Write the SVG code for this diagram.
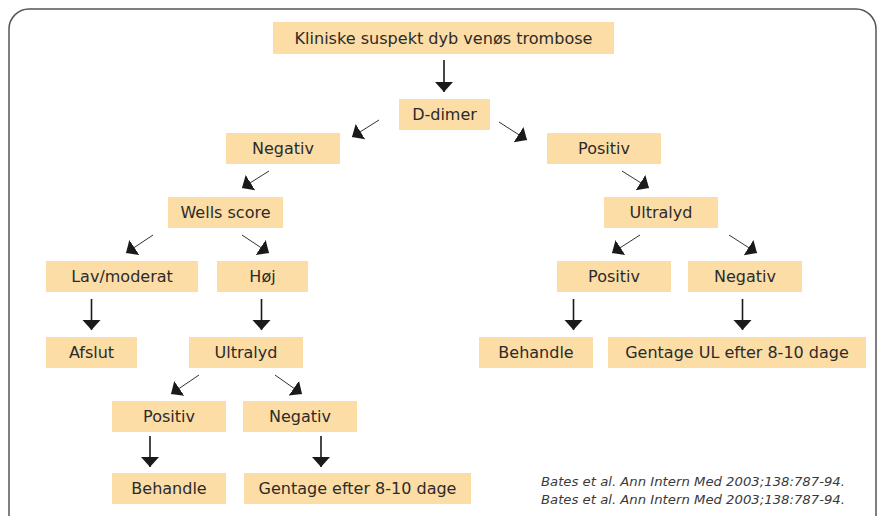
<svg xmlns="http://www.w3.org/2000/svg" width="879" height="516" viewBox="0 0 879 516">
<defs>
<style>
.box{fill:#FDDDA6;}
.t{font-family:"DejaVu Sans",Verdana,sans-serif;font-size:16px;fill:#2b2b2b;text-anchor:middle;}
.cite{font-family:"DejaVu Sans",Verdana,sans-serif;font-size:12.5px;font-style:italic;fill:#3a3a3a;}
.d{stroke:#333;stroke-width:1;fill:none;}
.v{stroke:#1a1a1a;stroke-width:1.6;fill:none;}
</style>
<marker id="ah" markerUnits="userSpaceOnUse" markerWidth="12" markerHeight="20" refX="10" refY="9" orient="auto" viewBox="0 0 12 20">
<path d="M0,0 L10,9 L0,18 Z" fill="#1a1a1a"/>
</marker>
</defs>
<rect x="9" y="9" width="867" height="530" rx="20" ry="20" fill="#fff" stroke="#555" stroke-width="1.5"/>

<g id="n-title"><rect class="box" x="273" y="22" width="341" height="32"/><text class="t" x="443.5" y="44" textLength="298" lengthAdjust="spacingAndGlyphs">Kliniske suspekt dyb venøs trombose</text></g>
<g id="n-ddimer"><rect class="box" x="399" y="99" width="91" height="31"/><text class="t" x="444.5" y="120">D-dimer</text></g>
<g id="n-neg1"><rect class="box" x="226" y="133" width="114" height="31"/><text class="t" x="283" y="154">Negativ</text></g>
<g id="n-pos1"><rect class="box" x="547" y="133" width="114" height="31"/><text class="t" x="604" y="154">Positiv</text></g>
<g id="n-wells"><rect class="box" x="168" y="197" width="115" height="31"/><text class="t" x="225.5" y="218">Wells score</text></g>
<g id="n-ultra-r"><rect class="box" x="604" y="197" width="114" height="31"/><text class="t" x="661" y="218">Ultralyd</text></g>
<g id="n-lav"><rect class="box" x="46" y="261" width="152" height="31"/><text class="t" x="122" y="282">Lav/moderat</text></g>
<g id="n-hoj"><rect class="box" x="217" y="261" width="91" height="31"/><text class="t" x="262.5" y="282">Høj</text></g>
<g id="n-pos-r"><rect class="box" x="557" y="261" width="114" height="31"/><text class="t" x="614" y="282">Positiv</text></g>
<g id="n-neg-r"><rect class="box" x="688" y="261" width="114" height="31"/><text class="t" x="745" y="282">Negativ</text></g>
<g id="n-afslut"><rect class="box" x="46" y="337" width="91" height="31"/><text class="t" x="91.5" y="358">Afslut</text></g>
<g id="n-ultra-l"><rect class="box" x="189" y="337" width="114" height="31"/><text class="t" x="246" y="358">Ultralyd</text></g>
<g id="n-beh-r"><rect class="box" x="479" y="337" width="114" height="31"/><text class="t" x="536" y="358">Behandle</text></g>
<g id="n-gent-r"><rect class="box" x="608" y="337" width="258" height="31"/><text class="t" x="737" y="358">Gentage UL efter 8-10 dage</text></g>
<g id="n-pos-l"><rect class="box" x="112" y="401" width="114" height="31"/><text class="t" x="169" y="422">Positiv</text></g>
<g id="n-neg-l"><rect class="box" x="243" y="401" width="114" height="31"/><text class="t" x="300" y="422">Negativ</text></g>
<g id="n-beh-l"><rect class="box" x="112" y="473" width="114" height="31"/><text class="t" x="169" y="494">Behandle</text></g>
<g id="n-gent-l"><rect class="box" x="244" y="473" width="227" height="31"/><text class="t" x="357.5" y="494">Gentage efter 8-10 dage</text></g>

<g id="connectors">
<line class="v" x1="444" y1="60" x2="444" y2="92" marker-end="url(#ah)"/>
<line class="d" x1="379" y1="120" x2="352" y2="137" marker-end="url(#ah)"/>
<line class="d" x1="499" y1="122" x2="527" y2="140" marker-end="url(#ah)"/>
<line class="d" x1="269" y1="171" x2="242" y2="188" marker-end="url(#ah)"/>
<line class="d" x1="622" y1="171" x2="649" y2="188" marker-end="url(#ah)"/>
<line class="d" x1="153" y1="235" x2="126" y2="253" marker-end="url(#ah)"/>
<line class="d" x1="242" y1="235" x2="269" y2="253" marker-end="url(#ah)"/>
<line class="d" x1="640" y1="235" x2="612" y2="253" marker-end="url(#ah)"/>
<line class="d" x1="729" y1="235" x2="757" y2="253" marker-end="url(#ah)"/>
<line class="v" x1="91.5" y1="299" x2="91.5" y2="330" marker-end="url(#ah)"/>
<line class="v" x1="261.5" y1="299" x2="261.5" y2="330" marker-end="url(#ah)"/>
<line class="v" x1="573.5" y1="299" x2="573.5" y2="330" marker-end="url(#ah)"/>
<line class="v" x1="742.5" y1="299" x2="742.5" y2="330" marker-end="url(#ah)"/>
<line class="d" x1="199" y1="375" x2="171" y2="394" marker-end="url(#ah)"/>
<line class="d" x1="275" y1="375" x2="302" y2="394" marker-end="url(#ah)"/>
<line class="v" x1="150" y1="436" x2="150" y2="467" marker-end="url(#ah)"/>
<line class="v" x1="321" y1="436" x2="321" y2="467" marker-end="url(#ah)"/>
</g>

<text class="cite" x="541" y="486" textLength="304" lengthAdjust="spacingAndGlyphs">Bates et al. Ann Intern Med 2003;138:787-94.</text>
<text class="cite" x="541" y="504" textLength="304" lengthAdjust="spacingAndGlyphs">Bates et al. Ann Intern Med 2003;138:787-94.</text>
</svg>
